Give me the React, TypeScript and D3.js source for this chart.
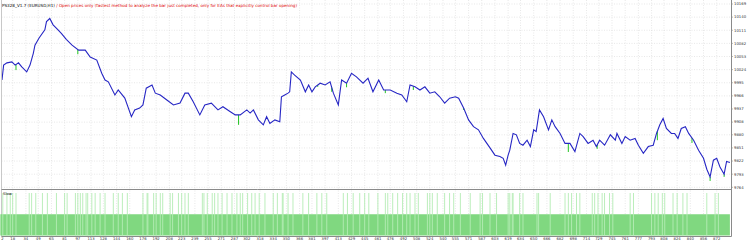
import React from 'react';
import * as d3 from 'd3';

const titleName = 'PS328_V1.7 (EURUSD,H1)';
const titleMode = ' / Open prices only (fastest method to analyze the bar just completed, only for EAs that explicitly control bar opening)';

const priceTicks = [10169, 10140, 10111, 10082, 10053, 10024, 9995, 9966, 9937, 9908, 9880, 9851, 9822, 9793, 9764];
const barTicks = [2, 18, 34, 49, 65, 81, 97, 113, 128, 144, 160, 176, 192, 208, 223, 239, 255, 271, 287, 302, 318, 334, 350, 366, 381, 397, 413, 429, 445, 461, 476, 492, 508, 524, 540, 555, 571, 587, 603, 619, 634, 650, 666, 682, 698, 714, 729, 745, 761, 777, 793, 808, 824, 840, 856, 872];

const balanceBars = [5, 7, 11, 17, 21, 25, 29, 35, 39, 43, 45, 50, 57, 59, 63, 67, 73, 77, 83, 90, 98, 106, 112, 120, 126, 130, 134, 142, 146, 154, 162, 166, 172, 176, 180, 187, 191, 197, 205, 213, 221, 227, 231, 237, 245, 251, 259, 267, 273, 282, 288, 294, 302, 306, 310, 316, 322, 326, 330, 336, 342, 344, 348, 352, 354, 356, 360, 367, 373, 377, 381, 385, 391, 397, 403, 407, 413, 417, 423, 429, 435, 443, 449, 455, 462, 468, 476, 484, 490, 496, 500, 506, 512, 518, 524, 530, 536, 542, 548, 555, 559, 565, 571, 577, 583, 589, 597, 603, 609, 613, 616, 619, 621, 625, 629, 633, 637, 642, 646, 650, 653, 657, 662, 668, 672, 676, 682, 688, 694, 700, 706, 710, 716, 722, 726, 730, 736, 743, 749, 751, 757, 761, 767, 773, 777, 783, 789, 795, 799, 803, 807, 811, 817, 821, 825, 829, 834, 838, 844, 850, 856, 860, 864, 868, 872, 876, 881, 884, 888];
const balanceValues = [10001, 10034, 10039, 10041, 10034, 10039, 10030, 10019, 10034, 10060, 10078, 10094, 10112, 10130, 10137, 10123, 10112, 10104, 10091, 10078, 10067, 10067, 10052, 10045, 10016, 10001, 9997, 9968, 9979, 9961, 9920, 9935, 9939, 9946, 9983, 9990, 9972, 9968, 9957, 9946, 9950, 9972, 9972, 9953, 9924, 9946, 9950, 9935, 9942, 9931, 9924, 9924, 9935, 9928, 9935, 9913, 9902, 9920, 9905, 9913, 9909, 9964, 9968, 9972, 9975, 10019, 10012, 10001, 9975, 9990, 9975, 9986, 9994, 9990, 9997, 9972, 9946, 10001, 9994, 10016, 10008, 9994, 10005, 9975, 10001, 9979, 9979, 9972, 9968, 9953, 9990, 9986, 9979, 9986, 9972, 9975, 9964, 9950, 9961, 9964, 9961, 9939, 9913, 9898, 9891, 9872, 9851, 9835, 9832, 9828, 9813, 9835, 9846, 9883, 9880, 9861, 9857, 9868, 9854, 9891, 9887, 9935, 9920, 9891, 9913, 9898, 9883, 9861, 9861, 9843, 9883, 9876, 9861, 9868, 9854, 9868, 9857, 9880, 9868, 9883, 9861, 9876, 9868, 9872, 9857, 9839, 9854, 9857, 9883, 9902, 9916, 9894, 9883, 9883, 9872, 9894, 9898, 9883, 9868, 9846, 9828, 9804, 9787, 9824, 9828, 9809, 9793, 9821, 9819];

const equityDipBars = [22, 97, 292, 388, 405, 423, 470, 504, 565, 692, 727, 800, 842, 864, 881];
const equityDipValues = [10023, 10058, 9902, 9986, 9975, 9985, 9972, 9979, 9935, 9842, 9849, 9868, 9862, 9778, 9787];

const slowLabel = 'Slow';
const slowBaseValue = 0.5;
const slowSignalValue = 1;
const slowFirstBar = 3;
const slowLastBar = 888;
const slowSignalBars = [6, 11, 15, 18, 22, 38, 41, 46, 54, 60, 71, 81, 84, 94, 97, 100, 103, 107, 109, 114, 118, 124, 130, 140, 146, 151, 157, 176, 181, 182, 189, 192, 197, 200, 209, 212, 219, 223, 227, 231, 248, 250, 254, 260, 263, 267, 272, 278, 284, 290, 294, 297, 303, 308, 312, 317, 324, 334, 339, 345, 346, 352, 358, 370, 377, 387, 393, 399, 419, 424, 431, 439, 445, 450, 461, 470, 473, 479, 485, 491, 496, 500, 506, 510, 521, 524, 527, 533, 542, 548, 553, 561, 573, 585, 588, 597, 605, 619, 621, 624, 625, 633, 637, 654, 656, 670, 688, 692, 696, 702, 706, 721, 724, 728, 733, 736, 742, 746, 767, 771, 793, 797, 801, 806, 809, 819, 824, 831, 836, 860, 870, 874];

const W = 750;
const H = 242;
const plotLeft = 1.5;
const plotRight = 731.5;
const mainBottom = 189.5;
const subTop = 190.5;
const subBottom = 236.5;
const font = 'Tahoma, "DejaVu Sans", sans-serif';

export default function App() {
  const x = d3.scaleLinear().domain([18, 872]).range([12.7, 716.7]);
  const y = d3.scaleLinear().domain([9764, 10169]).range([187.3, 4]);
  const ys = d3.scaleLinear().domain([0, 1]).range([235.5, 193]);

  const pts: [number, number][] = balanceBars.map((b, i) => [b, balanceValues[i]]);
  const line = d3.line<[number, number]>().x((d) => x(d[0])).y((d) => y(d[1]));
  const balanceAt = (b: number) => {
    const j = d3.bisector((d: [number, number]) => d[0]).left(pts, b);
    if (j <= 0) return pts[0][1];
    if (j >= pts.length) return pts[pts.length - 1][1];
    const a = pts[j - 1];
    const c = pts[j];
    const t = (b - a[0]) / (c[0] - a[0]);
    return a[1] + (c[1] - a[1]) * t;
  };

  return (
    <svg width={W} height={H} style={{ position: 'absolute', left: 0, top: 0, background: '#fff' }}>
      <defs>
        <clipPath id="mainClip">
          <rect x={plotLeft} y={0} width={plotRight - plotLeft} height={mainBottom} />
        </clipPath>
      </defs>
      {/* grid main */}
      <g stroke="#d8d8d8" strokeWidth={0.6} strokeDasharray="1,1.5">
        {priceTicks.map((t) => (
          <line key={'h' + t} x1={plotLeft} x2={plotRight} y1={y(t)} y2={y(t)} />
        ))}
        {barTicks.map((t) => (
          <line key={'v' + t} x1={x(t)} x2={x(t)} y1={0} y2={mainBottom} />
        ))}
        {barTicks.map((t) => (
          <line key={'vs' + t} x1={x(t)} x2={x(t)} y1={subTop} y2={subBottom} />
        ))}
      </g>
      {/* title */}
      <text x={2} y={6.5} fontFamily={font} fontSize={4.1}>
        <tspan fill="#000">{titleName}</tspan>
        <tspan fill="#e00000">{titleMode}</tspan>
      </text>
      {/* equity dips */}
      <g clipPath="url(#mainClip)" stroke="#22c422" strokeWidth={1}>
        {equityDipBars.map((b, i) => (
          <path key={'e' + b} d={d3.line()([[x(b), y(balanceAt(b))], [x(b), y(equityDipValues[i])]]) || ''} />
        ))}
      </g>
      {/* balance */}
      <path d={line(pts) || ''} fill="none" stroke="#2626c4" strokeWidth={1.1} clipPath="url(#mainClip)" />
      {/* right axis */}
      <line x1={plotRight} x2={plotRight} y1={0} y2={subBottom} stroke="#8a8a8a" strokeWidth={1} />
      <line x1={plotLeft} x2={plotLeft} y1={0} y2={subBottom} stroke="#c8c8c8" strokeWidth={1} />
      <line x1={plotLeft} x2={plotRight} y1={mainBottom} y2={mainBottom} stroke="#8a8a8a" strokeWidth={1} />
      {priceTicks.map((t) => (
        <g key={'pt' + t}>
          <line x1={plotRight} x2={plotRight + 1.5} y1={y(t)} y2={y(t)} stroke="#8a8a8a" strokeWidth={0.6} />
          <text x={734} y={y(t)} dy="0.35em" fontFamily={font} fontSize={3.8} fill="#333">
            {t}
          </text>
        </g>
      ))}
      {/* slow panel */}
      <rect x={x(slowFirstBar)} y={ys(slowBaseValue)} width={x(slowLastBar) - x(slowFirstBar)} height={ys(0) - ys(slowBaseValue)} fill="#80d880" />
      {slowSignalBars.map((b) => (
        <rect key={'s' + b} x={x(b) - 0.45} y={ys(slowSignalValue)} width={0.9} height={ys(0) - ys(slowSignalValue)} fill="#b4ecb4" />
      ))}
      <text x={3} y={194.5} fontFamily={font} fontSize={3.8} fill="#000">
        {slowLabel}
      </text>
      <line x1={plotLeft} x2={plotRight} y1={subBottom} y2={subBottom} stroke="#8a8a8a" strokeWidth={1} />
      {barTicks.map((t) => (
        <text key={'bt' + t} x={Math.max(x(t), 2.5)} y={239.5} textAnchor="middle" fontFamily={font} fontSize={3.8} fill="#333">
          {t}
        </text>
      ))}
    </svg>
  );
}
